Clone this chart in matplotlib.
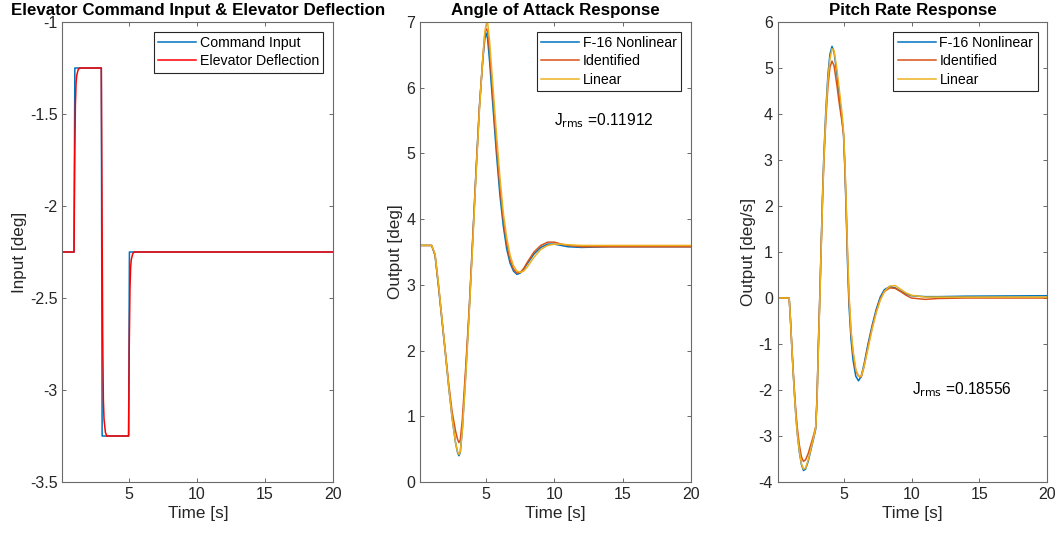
import matplotlib
matplotlib.use("Agg")
import matplotlib.pyplot as plt

plt.rcParams["font.family"] = ["Liberation Sans", "DejaVu Sans"]

# ── Data ──────────────────────────────────────────────────────────────────────
cmd_t = [0.15, 1.0, 1.06, 3.0, 3.06, 5.0, 5.06, 20.0]
cmd_v = [-2.25, -2.25, -1.25, -1.25, -3.25, -3.25, -2.25, -2.25]

elev_t = [0.15, 1.0, 1.05, 1.1, 1.15, 1.2, 1.3, 1.4,
          3.0, 3.05, 3.1, 3.15, 3.2, 3.3, 3.4,
          5.0, 5.05, 5.1, 5.15, 5.2, 5.3, 5.4, 20.0]
elev_v = [-2.25, -2.25, -1.75, -1.45, -1.33, -1.29, -1.26, -1.25,
          -1.25, -2.0, -2.7, -3.05, -3.16, -3.23, -3.25,
          -3.25, -2.75, -2.45, -2.33, -2.29, -2.26, -2.25, -2.25]

aoa_t = [0.15, 1.0, 1.25, 1.5, 1.75, 2.0, 2.25, 2.5, 2.75, 2.9, 3.0, 3.1,
         3.25, 3.5, 3.75, 4.0, 4.25, 4.5, 4.75, 4.9, 5.0, 5.1, 5.25, 5.5,
         5.75, 6.0, 6.25, 6.5, 6.75, 7.0, 7.25, 7.5, 7.75, 8.0, 8.5, 9.0,
         9.5, 10.0, 10.5, 11.0, 12.0, 14.0, 20.0]
aoa_nonlinear = [3.60, 3.60, 3.45, 2.98, 2.47, 1.97, 1.45, 0.98, 0.60, 0.45,
                 0.40, 0.45, 0.80, 1.65, 2.60, 3.65, 4.72, 5.70, 6.42, 6.75,
                 6.83, 6.75, 6.40, 5.70, 5.00, 4.38, 3.90, 3.55, 3.33, 3.21,
                 3.16, 3.18, 3.24, 3.32, 3.47, 3.57, 3.62, 3.62, 3.60, 3.58,
                 3.57, 3.58, 3.58]
aoa_identified = [3.60, 3.60, 3.46, 3.00, 2.50, 2.00, 1.50, 1.07, 0.78, 0.65,
                  0.60, 0.64, 0.95, 1.75, 2.62, 3.65, 4.70, 5.70, 6.45, 6.82,
                  6.90, 6.86, 6.55, 5.85, 5.12, 4.50, 4.00, 3.63, 3.38, 3.24,
                  3.18, 3.19, 3.25, 3.34, 3.50, 3.60, 3.65, 3.65, 3.62, 3.60,
                  3.58, 3.58, 3.58]
aoa_linear = [3.60, 3.60, 3.47, 3.02, 2.50, 1.98, 1.46, 0.98, 0.60, 0.46,
              0.42, 0.46, 0.78, 1.60, 2.55, 3.58, 4.65, 5.65, 6.45, 6.85,
              6.97, 7.00, 6.70, 6.00, 5.30, 4.65, 4.10, 3.72, 3.45, 3.29,
              3.21, 3.19, 3.21, 3.27, 3.42, 3.54, 3.60, 3.62, 3.62, 3.61,
              3.60, 3.60, 3.60]

q_t = [0.15, 1.0, 1.1, 1.2, 1.3, 1.4, 1.5, 1.6, 1.75, 1.9, 2.05, 2.2, 2.4,
       2.6, 2.8, 2.95, 3.05, 3.15, 3.25, 3.35, 3.45, 3.55, 3.7, 3.85, 4.0,
       4.15, 4.3, 4.5, 4.7, 4.9, 5.0, 5.1, 5.2, 5.3, 5.4, 5.55, 5.7, 5.9,
       6.1, 6.3, 6.5, 6.8, 7.1, 7.4, 7.7, 8.0, 8.4, 8.8, 9.2, 9.6, 10.0,
       11.0, 12.0, 14.0, 20.0]
q_nonlinear = [0, 0, -0.5, -1.1, -1.65, -2.15, -2.6, -2.95, -3.35, -3.62,
               -3.75, -3.72, -3.55, -3.3, -3.05, -2.85, -2.2, -1.0, 0.0, 1.1,
               2.2, 3.1, 4.1, 4.85, 5.3, 5.47, 5.35, 4.9, 4.35, 3.85, 3.55,
               2.8, 1.8, 0.7, -0.15, -0.9, -1.35, -1.7, -1.8, -1.7, -1.45,
               -1.0, -0.6, -0.25, 0.02, 0.18, 0.25, 0.22, 0.15, 0.09, 0.05,
               0.03, 0.03, 0.04, 0.05]
q_identified = [0, 0, -0.5, -1.08, -1.6, -2.08, -2.5, -2.83, -3.2, -3.45,
                -3.55, -3.52, -3.38, -3.18, -2.98, -2.8, -2.15, -1.0, 0.0,
                1.05, 2.1, 2.95, 3.9, 4.6, 5.02, 5.15, 5.05, 4.65, 4.2, 3.8,
                3.55, 2.85, 1.9, 0.85, 0.0, -0.75, -1.2, -1.58, -1.7, -1.72,
                -1.5, -1.05, -0.65, -0.3, -0.02, 0.14, 0.22, 0.21, 0.14, 0.06,
                0.0, -0.03, -0.01, 0.0, 0.0]
q_linear = [0, 0, -0.5, -1.1, -1.65, -2.15, -2.6, -2.95, -3.33, -3.6,
            -3.72, -3.7, -3.52, -3.28, -3.03, -2.82, -2.25, -1.1, -0.1, 1.0,
            2.1, 3.0, 4.0, 4.75, 5.2, 5.42, 5.38, 5.0, 4.5, 3.98, 3.62,
            2.95, 2.0, 0.95, 0.1, -0.7, -1.15, -1.55, -1.7, -1.7, -1.5,
            -1.1, -0.68, -0.32, -0.05, 0.14, 0.26, 0.27, 0.19, 0.11, 0.06,
            0.02, 0.02, 0.02, 0.02]

series_labels = ["F-16 Nonlinear", "Identified", "Linear"]
x_ticks = [5, 10, 15, 20]

# ── Style ─────────────────────────────────────────────────────────────────────
BLUE = "#0072BD"
ORANGE = "#D95319"
YELLOW = "#EDB120"
RED = "#FF0000"
AX_CLR = "#262626"
SPINE = "#6a6a6a"
LW = 1.1


def style_axes(ax, title, ylabel, ylim, yticks, ytick_labels=None):
    ax.set_xlim(0.15, 20)
    ax.set_ylim(*ylim)
    ax.set_xticks(x_ticks)
    ax.set_yticks(yticks)
    if ytick_labels is not None:
        ax.set_yticklabels(ytick_labels)
    ax.tick_params(direction="in", top=True, right=True, length=3,
                   width=0.7, colors=SPINE, labelcolor=AX_CLR, labelsize=11.5)
    for spine in ax.spines.values():
        spine.set_edgecolor(SPINE)
        spine.set_linewidth(0.8)
    ax.set_title(title, fontsize=12.2, fontweight="bold", color="black", pad=5)
    ax.set_xlabel("Time [s]", fontsize=12.3, color=AX_CLR, labelpad=3)
    ax.set_ylabel(ylabel, fontsize=12.3, color=AX_CLR, labelpad=2)


def add_legend(ax):
    leg = ax.legend(loc="upper right", fontsize=10.2, fancybox=False,
                    framealpha=1, edgecolor=AX_CLR, borderaxespad=0.7,
                    handlelength=2.7, handletextpad=0.25, borderpad=0.3,
                    labelspacing=0.3)
    leg.get_frame().set_linewidth(0.8)


fig = plt.figure(figsize=(10.58, 5.37), dpi=100)
ax1 = fig.add_axes([0.0590, 0.1024, 0.2560, 0.8566])
ax2 = fig.add_axes([0.3970, 0.1024, 0.2560, 0.8566])
ax3 = fig.add_axes([0.7350, 0.1024, 0.2550, 0.8566])

# ── 1. Input ──────────────────────────────────────────────────────────────────
ax1.plot(cmd_t, cmd_v, color=BLUE, lw=LW, label="Command Input")
ax1.plot(elev_t, elev_v, color=RED, lw=LW, label="Elevator Deflection")
style_axes(ax1, "Elevator Command Input & Elevator Deflection", "Input [deg]",
           (-3.5, -1), [-3.5, -3, -2.5, -2, -1.5, -1],
           ["-3.5", "-3", "-2.5", "-2", "-1.5", "-1"])
add_legend(ax1)

# ── 2. Angle of attack ────────────────────────────────────────────────────────
for vals, col, lab in zip([aoa_nonlinear, aoa_identified, aoa_linear],
                          [BLUE, ORANGE, YELLOW], series_labels):
    ax2.plot(aoa_t, vals, color=col, lw=LW, label=lab)
style_axes(ax2, "Angle of Attack Response", "Output [deg]", (0, 7), range(0, 8))
add_legend(ax2)
ax2.text(10, 5.5, r"J$_{\mathrm{rms}}$ =0.11912", fontsize=11.2, color="black",
         ha="left", va="center")

# ── 3. Pitch rate ─────────────────────────────────────────────────────────────
for vals, col, lab in zip([q_nonlinear, q_identified, q_linear],
                          [BLUE, ORANGE, YELLOW], series_labels):
    ax3.plot(q_t, vals, color=col, lw=LW, label=lab)
style_axes(ax3, "Pitch Rate Response", "Output [deg/s]", (-4, 6), range(-4, 7),
           [str(v) for v in range(-4, 7)])
add_legend(ax3)
ax3.text(10, -2, r"J$_{\mathrm{rms}}$ =0.18556", fontsize=11.2, color="black",
         ha="left", va="center")

fig.savefig("out.png", dpi=100)
